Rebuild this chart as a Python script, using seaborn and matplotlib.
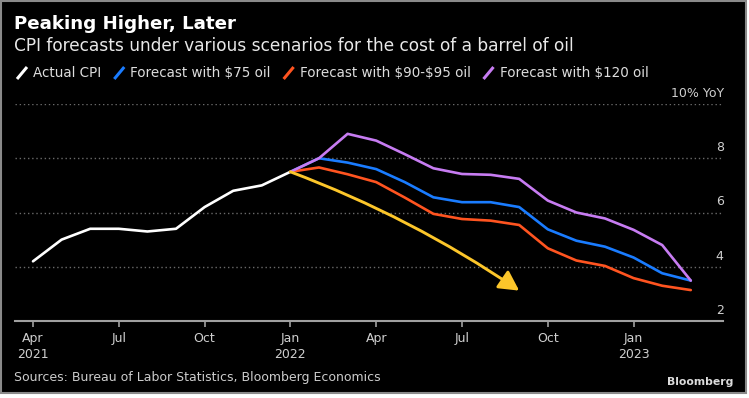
import numpy as np
import pandas as pd
import matplotlib
matplotlib.use("Agg")
import matplotlib.pyplot as plt
import seaborn as sns
from matplotlib.lines import Line2D
from matplotlib.patches import Rectangle

# ---------------- data ----------------
actual_months = ["2021-04", "2021-05", "2021-06", "2021-07", "2021-08", "2021-09",
                 "2021-10", "2021-11", "2021-12", "2022-01"]
actual_cpi = [4.2, 5.0, 5.4, 5.4, 5.3, 5.4, 6.2, 6.8, 7.0, 7.5]

forecast_months = ["2022-01", "2022-02", "2022-03", "2022-04", "2022-05", "2022-06",
                   "2022-07", "2022-08", "2022-09", "2022-10", "2022-11", "2022-12",
                   "2023-01", "2023-02", "2023-03"]
forecast_75 = [7.5, 8.0, 7.84, 7.6, 7.12, 6.56, 6.38, 6.38, 6.2, 5.38, 4.96, 4.74, 4.34, 3.76, 3.49]
forecast_90_95 = [7.5, 7.66, 7.41, 7.12, 6.55, 5.95, 5.76, 5.70, 5.54, 4.68, 4.23, 4.03, 3.58, 3.30, 3.14]
forecast_120 = [7.5, 8.0, 8.9, 8.65, 8.15, 7.63, 7.42, 7.39, 7.24, 6.44, 6.0, 5.78, 5.36, 4.8, 3.49]

arrow_months = ["2022-01", "2022-09"]
arrow_values = [7.5, 3.12]

series_names = ["Actual CPI", "Forecast with $75 oil", "Forecast with $90-$95 oil",
                "Forecast with $120 oil"]
series_colors = ["#ffffff", "#1a7cff", "#ff5420", "#c77cf2"]
arrow_color = "#fcc62a"

x_tick_months = ["2021-04", "2021-07", "2021-10", "2022-01", "2022-04", "2022-07",
                 "2022-10", "2023-01"]
x_tick_labels = ["Apr\n2021", "Jul", "Oct", "Jan\n2022", "Apr", "Jul", "Oct", "Jan\n2023"]
y_ticks = [2, 4, 6, 8, 10]
y_tick_labels = ["2", "4", "6", "8", "10% YoY"]

title = "Peaking Higher, Later"
subtitle = "CPI forecasts under various scenarios for the cost of a barrel of oil"
source = "Sources: Bureau of Labor Statistics, Bloomberg Economics"
brand = "Bloomberg"


def month_index(s):
    y, m = s.split("-")
    return (int(y) - 2021) * 12 + int(m) - 4


# ---------------- frame ----------------
sns.set_theme(style="dark")
plt.rcParams["font.family"] = ["DejaVu Sans"]

W, H = 749, 398
fig = plt.figure(figsize=(W / 100, H / 100), dpi=100, facecolor="white")
fig.patches.append(Rectangle((1 / W, 5 / H), 745 / W, 392 / H, transform=fig.transFigure,
                             facecolor="black", edgecolor="#8a8a8a", linewidth=1.5, zorder=-10))


def px(x, y):
    return x / W, 1 - y / H


ax_l, ax_r, ax_t, ax_b = 15, 723, 104, 321
ax = fig.add_axes([ax_l / W, 1 - ax_b / H, (ax_r - ax_l) / W, (ax_b - ax_t) / H])
ax.set_facecolor("none")

frames = [pd.DataFrame({"t": [month_index(m) for m in actual_months], "value": actual_cpi,
                        "series": series_names[0]})]
for name, vals in zip(series_names[1:], [forecast_75, forecast_90_95, forecast_120]):
    frames.append(pd.DataFrame({"t": [month_index(m) for m in forecast_months], "value": vals,
                                "series": name}))
df = pd.concat(frames, ignore_index=True)

sns.lineplot(data=df, x="t", y="value", hue="series", hue_order=series_names,
             palette=dict(zip(series_names, series_colors)), linewidth=1.9,
             estimator=None, sort=False, legend=False, ax=ax, zorder=3)

ax.annotate("", xy=(month_index(arrow_months[1]), arrow_values[1]),
            xytext=(month_index(arrow_months[0]), arrow_values[0]),
            arrowprops=dict(arrowstyle="-|>,head_length=0.6,head_width=0.32",
                            color=arrow_color, lw=2.1, shrinkA=0, shrinkB=0,
                            mutation_scale=20, connectionstyle="arc3,rad=-0.06"),
            zorder=4)

x0 = (ax_l - 33) / 28.6
x1 = (ax_r - 33) / 28.6
ax.set_xlim(x0, x1)
ax.set_ylim(2, 10)

# grid
ax.set_yticks(y_ticks)
ax.set_yticklabels([])
ax.tick_params(axis="y", length=0, left=False, right=False)
ax.yaxis.grid(True, linestyle=(0, (1, 2)), color="#6a6a6a", linewidth=1.0)
ax.xaxis.grid(False)
for s in ["top", "left", "right"]:
    ax.spines[s].set_visible(False)
ax.spines["bottom"].set_color("#a0a0a0")
ax.spines["bottom"].set_linewidth(1.5)
ax.spines["bottom"].set_zorder(2)

for v, lab in zip(y_ticks, y_tick_labels):
    ax.annotate(lab, xy=(1.0, v), xycoords=("axes fraction", "data"),
                xytext=(0.5, 3), textcoords="offset points", ha="right", va="bottom",
                color="#cfcfcf", fontsize=9)

ax.set_xticks([month_index(m) for m in x_tick_months])
ax.set_xticklabels(x_tick_labels, color="#cfcfcf", fontsize=9, linespacing=1.25)
ax.tick_params(axis="x", bottom=True, length=4, width=1.2, color="#a0a0a0", pad=4)
ax.set_xlabel("")
ax.set_ylabel("")

# ---------------- texts ----------------
renderer = fig.canvas.get_renderer()


def fit(t, target):
    w = t.get_window_extent(renderer).width
    t.set_fontsize(t.get_fontsize() * target / w)


t1 = fig.text(*px(14, 24), title, color="white", fontsize=11, fontweight="bold",
              ha="left", va="center")
fit(t1, 221)
t2 = fig.text(*px(14, 46), subtitle, color="#e8e8e8", fontsize=10, ha="left", va="center")
fit(t2, 564)
t3 = fig.text(*px(14, 378), source, color="#cccccc", fontsize=9, ha="left", va="center")
fit(t3, 366)
t4 = fig.text(*px(733, 382), brand, color="#dcdcdc", fontsize=9, fontweight="bold",
              ha="right", va="center")
fit(t4, 66)

# legend
probe = fig.text(0, 0, series_names[1], fontsize=9, parse_math=False)
w = probe.get_window_extent(renderer).width
leg_fs = 9 * 141 / w
probe.remove()
x = 17
ly = 73
for name, col in zip(series_names, series_colors):
    fig.add_artist(Line2D([x / W, (x + 10) / W], [1 - (ly + 6) / H, 1 - (ly - 6) / H],
                          transform=fig.transFigure, color=col, linewidth=2.2,
                          solid_capstyle="butt"))
    t = fig.text(*px(x + 16, ly), name, color="#dddddd", fontsize=leg_fs, ha="left",
                 va="center", parse_math=False)
    x = x + 16 + t.get_window_extent(renderer).width + 13

fig.savefig("out.png", dpi=100, facecolor=fig.get_facecolor())
